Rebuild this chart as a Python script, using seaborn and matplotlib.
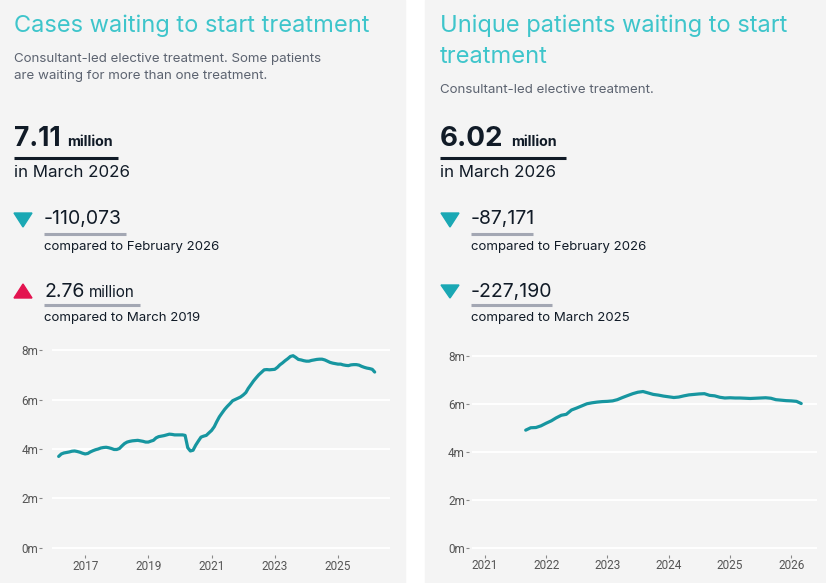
import pandas as pd
import matplotlib
matplotlib.use("Agg")
import matplotlib.pyplot as plt
from matplotlib.patches import Polygon, Rectangle
from matplotlib.lines import Line2D
from matplotlib.ticker import FuncFormatter
import seaborn as sns

# Data (millions, monthly)
cases_start = "2016-03-01"
cases_millions = [
    3.70, 3.80, 3.84, 3.86, 3.88, 3.91, 3.92, 3.90, 3.87, 3.83,              # 2016 Mar-Dec
    3.80, 3.82, 3.88, 3.93, 3.97, 4.00, 4.04, 4.06, 4.07, 4.05, 4.02, 3.98,  # 2017
    3.98, 4.02, 4.12, 4.22, 4.28, 4.31, 4.33, 4.34, 4.35, 4.33, 4.31, 4.28,  # 2018
    4.28, 4.32, 4.35, 4.45, 4.50, 4.52, 4.54, 4.57, 4.60, 4.59, 4.57, 4.57,  # 2019
    4.57, 4.57, 4.55, 4.05, 3.92, 3.95, 4.15, 4.32, 4.48, 4.52, 4.55, 4.65,  # 2020
    4.75, 4.90, 5.10, 5.30, 5.45, 5.60, 5.72, 5.83, 5.95, 6.00, 6.05, 6.10,  # 2021
    6.18, 6.28, 6.45, 6.60, 6.75, 6.88, 7.00, 7.10, 7.20, 7.21, 7.20, 7.21,  # 2022
    7.22, 7.30, 7.40, 7.48, 7.57, 7.65, 7.74, 7.77, 7.70, 7.62, 7.60, 7.57,  # 2023
    7.55, 7.55, 7.58, 7.60, 7.62, 7.63, 7.63, 7.60, 7.55, 7.50, 7.47, 7.45,  # 2024
    7.43, 7.43, 7.40, 7.38, 7.37, 7.40, 7.41, 7.41, 7.39, 7.34, 7.30, 7.27,  # 2025
    7.25, 7.22, 7.11,                                                        # 2026 Jan-Mar
]
patients_start = "2021-09-01"
patients_millions = [
    4.91, 5.01, 5.02, 5.09,                                                  # 2021 Sep-Dec
    5.20, 5.30, 5.42, 5.53, 5.57, 5.75, 5.83, 5.92, 6.01, 6.05, 6.08, 6.10,  # 2022
    6.11, 6.13, 6.18, 6.27, 6.35, 6.43, 6.49, 6.52, 6.46, 6.40, 6.37, 6.33,  # 2023
    6.30, 6.27, 6.29, 6.34, 6.38, 6.40, 6.42, 6.43, 6.36, 6.34, 6.28, 6.25,  # 2024
    6.26, 6.25, 6.25, 6.24, 6.23, 6.24, 6.25, 6.26, 6.24, 6.18, 6.16, 6.14,  # 2025
    6.13, 6.11, 6.02,                                                        # 2026 Jan-Mar
]
left_years = ["2017", "2019", "2021", "2023", "2025"]
right_years = ["2021", "2022", "2023", "2024", "2025", "2026"]
y_ticks = [0, 2, 4, 6, 8]

PANEL = "#f4f4f4"
TITLE = "#3ec5cb"
SUB = "#5c6370"
DARK = "#111b27"
GREYLINE = "#a3a7b3"
TEAL = "#1aa8b4"
RED = "#e3134f"
LINE = "#1796a0"
TICK = "#555555"

sns.set_theme(style="white")
plt.rcParams["font.family"] = ["Inter", "DejaVu Sans"]

W, H = 826, 583
fig = plt.figure(figsize=(W / 100, H / 100), dpi=100)
fig.patch.set_facecolor("white")
renderer = fig.canvas.get_renderer()


def fx(px):
    return px / W


def fy(py):
    return 1 - py / H


def txt(x, y, s, **kw):
    return fig.text(fx(x), fy(y), s, va="baseline", **kw)


def after(t, gap, y, s, **kw):
    # put a text right after another one, gap in pixels
    x_end = t.get_window_extent(renderer).x1
    return txt(x_end + gap, y, s, **kw)


def rule(x0, x1, y, color, lw):
    fig.add_artist(Line2D([fx(x0), fx(x1)], [fy(y), fy(y)], color=color, lw=lw,
                          transform=fig.transFigure, solid_capstyle="butt"))


def tri(x0, x1, y0, y1, up, color):
    if up:
        pts = [(fx(x0), fy(y1)), (fx(x1), fy(y1)), (fx((x0 + x1) / 2), fy(y0))]
    else:
        pts = [(fx(x0), fy(y0)), (fx(x1), fy(y0)), (fx((x0 + x1) / 2), fy(y1))]
    fig.add_artist(Polygon(pts, closed=True, color=color, transform=fig.transFigure))


# panel backgrounds
fig.add_artist(Rectangle((0, 0), fx(405), 1, transform=fig.transFigure, color=PANEL, zorder=-5))
fig.add_artist(Rectangle((fx(425), 0), 1 - fx(425), 1, transform=fig.transFigure, color=PANEL, zorder=-5))

# left panel text
txt(14, 32, "Cases waiting to start treatment", color=TITLE, fontsize=17)
txt(14, 62, "Consultant-led elective treatment. Some patients", color=SUB, fontsize=9.6)
txt(14, 79, "are waiting for more than one treatment.", color=SUB, fontsize=9.6)
t = txt(14, 146, "7.11", color=DARK, fontsize=19, fontweight="bold")
after(t, 7, 146, "million", color=DARK, fontsize=10.2, fontweight="bold")
rule(14, 118, 158, DARK, 2.2)
txt(14, 177, "in March 2026", color=DARK, fontsize=12.2)
tri(14, 32, 213, 227, False, TEAL)
txt(44, 224, "-110,073", color=DARK, fontsize=14)
rule(44, 126, 234, GREYLINE, 2.2)
txt(44, 250, "compared to February 2026", color=DARK, fontsize=9.5)
tri(14, 32, 284, 298, True, RED)
t = txt(44, 297, "2.76", color=DARK, fontsize=14)
after(t, 5, 297, "million", color=DARK, fontsize=11)
rule(44, 140, 305, GREYLINE, 2.2)
txt(44, 321, "compared to March 2019", color=DARK, fontsize=9.5)

# right panel text
txt(440, 32, "Unique patients waiting to start", color=TITLE, fontsize=17)
txt(440, 63, "treatment", color=TITLE, fontsize=17)
txt(440, 93, "Consultant-led elective treatment.", color=SUB, fontsize=9.6)
t = txt(440, 146, "6.02", color=DARK, fontsize=20, fontweight="bold")
after(t, 8, 146, "million", color=DARK, fontsize=10.2, fontweight="bold")
rule(440, 566, 158, DARK, 2.2)
txt(440, 177, "in March 2026", color=DARK, fontsize=12.2)
tri(441, 459, 213, 227, False, TEAL)
txt(471, 224, "-87,171", color=DARK, fontsize=14)
rule(471, 533, 234, GREYLINE, 2.2)
txt(471, 250, "compared to February 2026", color=DARK, fontsize=9.5)
tri(441, 459, 285, 298, False, TEAL)
txt(471, 297, "-227,190", color=DARK, fontsize=14)
rule(471, 552, 305, GREYLINE, 2.2)
txt(471, 321, "compared to March 2025", color=DARK, fontsize=9.5)


def chart(rect, start, values, xlim, years, left_out):
    ax = fig.add_axes(rect)
    ax.set_facecolor(PANEL)
    dates = pd.date_range(start, periods=len(values), freq="MS")
    df = pd.DataFrame({"month": dates, "waiting": values})
    sns.lineplot(data=df, x="month", y="waiting", ax=ax, color=LINE, linewidth=2.3)
    ax.set_xlim(pd.Timestamp(xlim[0]), pd.Timestamp(xlim[1]))
    ax.set_ylim(-0.3, 8.3)
    ax.set_yticks(y_ticks)
    ax.yaxis.set_major_formatter(FuncFormatter(lambda v, p: f"{v:.0f}m"))
    ax.set_xticks([pd.Timestamp(f"{y}-01-01") for y in years])
    ax.set_xticklabels(years)
    ax.grid(axis="y", color="white", linewidth=1.4)
    ax.grid(axis="x", visible=False)
    for s in ax.spines.values():
        s.set_visible(False)
    ax.spines["left"].set_position(("outward", left_out))
    ax.tick_params(axis="both", length=2, width=0.8, color="#888888", pad=1,
                   labelsize=8.5, labelcolor=TICK, left=True, bottom=True)
    for lab in ax.get_xticklabels() + ax.get_yticklabels():
        lab.set_family(["Roboto", "DejaVu Sans"])
    ax.set_xlabel("")
    ax.set_ylabel("")
    return ax


chart([fx(52), fy(555.4), fx(390 - 52), (555.4 - 342.6) / H], cases_start, cases_millions,
      ("2015-12-15", "2026-08-25"), left_years, 7)
chart([fx(472), fy(555.2), fx(817 - 472), (555.2 - 348.8) / H], patients_start, patients_millions,
      ("2020-10-16", "2026-06-03"), right_years, 2)

fig.savefig("out.png", dpi=100, facecolor=fig.get_facecolor())
